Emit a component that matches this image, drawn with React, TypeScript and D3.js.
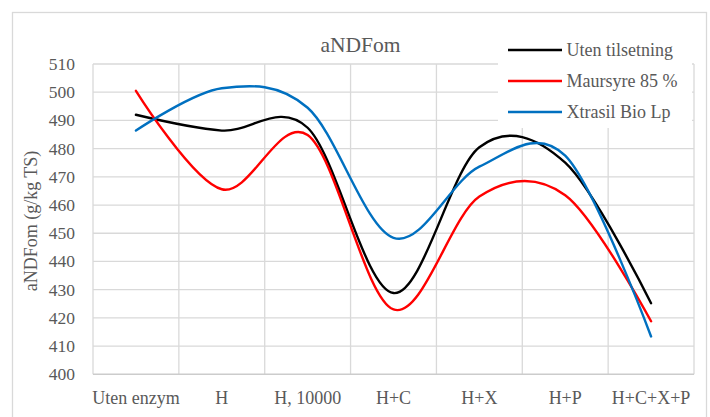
import React, { useEffect, useRef } from "react";
import * as d3 from "d3";

const categories = ["Uten enzym", "H", "H, 10000", "H+C", "H+X", "H+P", "H+C+X+P"];
const utenTilsetning = [492, 486.4, 487.4, 428.8, 480.5, 475, 425.2];
const maursyre = [500.5, 465.6, 484.8, 423, 463, 463.5, 418.8];
const xtrasil = [486.4, 501.4, 494.5, 448.4, 473.6, 477.5, 413.4];
const yTicks = [400, 410, 420, 430, 440, 450, 460, 470, 480, 490, 500, 510];

const seriesNames = ["Uten tilsetning", "Maursyre 85 %", "Xtrasil Bio Lp"];
const seriesColors = ["#000000", "#ff0000", "#0070c0"];

const App = () => {
  const svgRef = useRef<SVGSVGElement>(null);

  useEffect(() => {
    const width = 710;
    const height = 417;
    const plot = { left: 93, right: 694, top: 64, bottom: 374.3 };
    const font = "'Liberation Serif', 'Times New Roman', serif";
    const textColor = "#595959";
    const grid = "#d9d9d9";

    const svg = d3.select(svgRef.current);
    svg.selectAll("*").remove();
    svg.attr("width", width).attr("height", height).style("background", "white");

    // chart border
    svg
      .append("rect")
      .attr("x", 12.5)
      .attr("y", 12.5)
      .attr("width", 694)
      .attr("height", 420)
      .attr("fill", "white")
      .attr("stroke", grid)
      .attr("stroke-width", 1.3);

    const x = d3.scaleBand().domain(categories).range([plot.left, plot.right]);
    const y = d3.scaleLinear().domain([400, 510]).range([plot.bottom, plot.top]);

    const g = svg.append("g");

    // horizontal gridlines
    g.append("g")
      .selectAll("line")
      .data(yTicks.filter((t) => t > 400))
      .join("line")
      .attr("x1", plot.left)
      .attr("x2", plot.right)
      .attr("y1", (d) => y(d))
      .attr("y2", (d) => y(d))
      .attr("stroke", grid)
      .attr("stroke-width", 1.3);

    // vertical gridlines at category boundaries
    const bounds = categories.map((c) => x(c)!).concat([plot.right]);
    g.append("g")
      .selectAll("line")
      .data(bounds)
      .join("line")
      .attr("x1", (d) => d)
      .attr("x2", (d) => d)
      .attr("y1", plot.top)
      .attr("y2", plot.bottom)
      .attr("stroke", grid)
      .attr("stroke-width", 1.3);

    // x axis line
    g.append("line")
      .attr("x1", plot.left)
      .attr("x2", plot.right)
      .attr("y1", plot.bottom)
      .attr("y2", plot.bottom)
      .attr("stroke", "#cccccc")
      .attr("stroke-width", 1.5);

    // y tick labels
    g.append("g")
      .selectAll("text")
      .data(yTicks)
      .join("text")
      .attr("x", 75)
      .attr("y", (d) => y(d))
      .attr("dy", "0.34em")
      .attr("text-anchor", "end")
      .attr("font-family", font)
      .attr("font-size", 17.5)
      .attr("fill", textColor)
      .text((d) => d);

    // x tick labels
    g.append("g")
      .selectAll("text")
      .data(categories)
      .join("text")
      .attr("x", (d) => x(d)! + x.bandwidth() / 2)
      .attr("y", 404)
      .attr("text-anchor", "middle")
      .attr("font-family", font)
      .attr("font-size", 18)
      .attr("fill", textColor)
      .text((d) => d);

    // axis title
    svg
      .append("text")
      .attr("transform", "translate(37,221) rotate(-90)")
      .attr("text-anchor", "middle")
      .attr("font-family", font)
      .attr("font-size", 18)
      .attr("fill", textColor)
      .text("aNDFom (g/kg TS)");

    // chart title
    svg
      .append("text")
      .attr("x", 360.5)
      .attr("y", 52)
      .attr("text-anchor", "middle")
      .attr("font-family", font)
      .attr("font-size", 21.5)
      .attr("fill", textColor)
      .text("aNDFom");

    // lines
    const line = d3
      .line<number>()
      .x((_, i) => x(categories[i])! + x.bandwidth() / 2)
      .y((d) => y(d))
      .curve(d3.curveCardinal.tension(0));

    g.append("g")
      .attr("fill", "none")
      .attr("stroke-width", 2.4)
      .attr("stroke-linecap", "round")
      .selectAll("path")
      .data([utenTilsetning, maursyre, xtrasil])
      .join("path")
      .attr("stroke", (_, i) => seriesColors[i])
      .attr("d", (d) => line(d));

    // legend
    const legend = svg.append("g");
    legend
      .append("rect")
      .attr("x", 498)
      .attr("y", 34)
      .attr("width", 194)
      .attr("height", 94)
      .attr("fill", "white");

    const item = legend
      .selectAll("g")
      .data(seriesNames)
      .join("g")
      .attr("transform", (_, i) => `translate(508,${50 + i * 31})`);

    item
      .append("line")
      .attr("x1", 0)
      .attr("x2", 54)
      .attr("stroke", (_, i) => seriesColors[i])
      .attr("stroke-width", 2.4);

    item
      .append("text")
      .attr("x", 58.5)
      .attr("dy", "0.34em")
      .attr("font-family", font)
      .attr("font-size", 18)
      .attr("fill", textColor)
      .text((d) => d);
  }, []);

  return (
    <div style={{ position: "absolute", left: 0, top: 0 }}>
      <svg ref={svgRef} />
    </div>
  );
};

export default App;
